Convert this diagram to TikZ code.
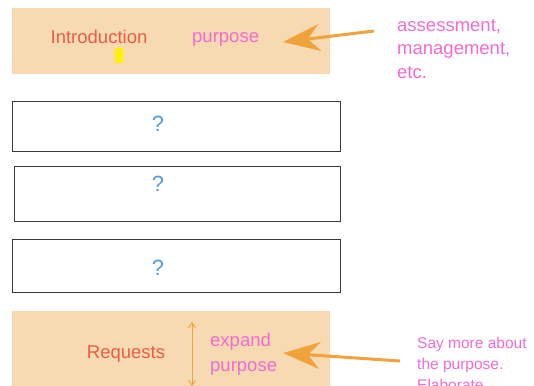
\documentclass[tikz,border=0pt]{standalone}
\usepackage{fontspec}
\setmainfont{Liberation Sans}
\usetikzlibrary{arrows.meta}
\definecolor{panel}{HTML}{F8DAB2}
\definecolor{headred}{HTML}{EC5B45}
\definecolor{notepink}{HTML}{F06CD2}
\definecolor{arroworange}{HTML}{F0A23C}
\definecolor{qblue}{HTML}{5A9AD6}
\definecolor{frame}{HTML}{3A3A3A}
\tikzset{
  panelbox/.style={fill=panel, draw=none, anchor=north west, inner sep=0pt},
  slotbox/.style={draw=frame, line width=0.9pt, fill=white, anchor=north west, inner sep=0pt},
  heading/.style={text=headred, font=\fontsize{18.5}{22}\selectfont, inner sep=0pt},
  note/.style={text=notepink, font=\fontsize{18.5}{23.5}\selectfont, inner sep=0pt, align=left},
  smallnote/.style={text=notepink, font=\fontsize{15.5}{21}\selectfont, inner sep=0pt, align=left},
  qmark/.style={text=qblue, font=\fontsize{22}{24}\selectfont, inner sep=0pt},
  pointer/.style={draw=arroworange, line width=3pt,
    -{Stealth[length=37pt, width=27pt, inset=12pt]}},
  stretch/.style={draw=arroworange, line width=0.9pt,
    {Straight Barb[length=5pt, width=7pt]}-{Straight Barb[length=5pt, width=7pt]}}
}
\begin{document}
\begin{tikzpicture}[x=1pt, y=-1pt]
\useasboundingbox (0,0) rectangle (534,385);

% opening section
\node[panelbox, minimum width=318pt, minimum height=66pt] (intro) at (12,8) {};
\node[heading] (introtitle) at (99,37) {Introduction};
\node[fill=yellow, minimum width=8pt, minimum height=15pt, inner sep=0pt] (marker) at (119,55.5) {};
\node[note, anchor=west] (purpose) at (192,39) {purpose};
\node[note, anchor=north west] (examples) at (397,19) {assessment,\\management,\\etc.};
\coordinate (introtip) at (283,42);
\coordinate (introtail) at (374,31);
\draw[pointer] (introtail) -- (introtip);

% empty middle sections
\node[slotbox, minimum width=328pt, minimum height=50pt] (slotA) at (12,101) {};
\node[qmark] (qA) at (158,124) {?};
\node[slotbox, minimum width=326pt, minimum height=55pt] (slotB) at (14,166) {};
\node[qmark] (qB) at (158,184) {?};
\node[slotbox, minimum width=328pt, minimum height=53pt] (slotC) at (12,239) {};
\node[qmark] (qC) at (158,268) {?};

% closing section
\node[panelbox, minimum width=318pt, minimum height=90pt] (req) at (12,311) {};
\node[heading] (reqtitle) at (126,354) {Requests};
\node[note, anchor=north west, font=\fontsize{18.5}{25}\selectfont] (expand) at (210,333) {expand\\purpose};
\coordinate (stretchtop) at (192,322);
\coordinate (stretchbot) at (192,386);
\draw[stretch] (stretchtop) -- (stretchbot);
\node[smallnote, anchor=north west] (saymore) at (417,337) {Say more about\\the purpose.\\Elaborate};
\coordinate (reqtip) at (283,353);
\coordinate (reqtail) at (400,361);
\draw[pointer] (reqtail) -- (reqtip);
\end{tikzpicture}
\end{document}
